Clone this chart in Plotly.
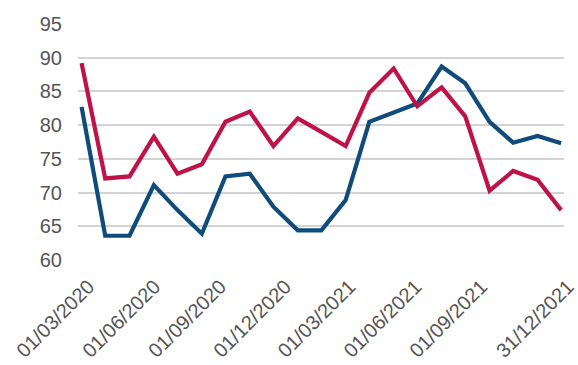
import plotly.graph_objects as go

dates = ["2020-03-01", "2020-04-03", "2020-05-07", "2020-06-10", "2020-07-13",
         "2020-08-16", "2020-09-18", "2020-10-22", "2020-11-24", "2020-12-28",
         "2021-01-30", "2021-03-05", "2021-04-07", "2021-05-11", "2021-06-13",
         "2021-07-17", "2021-08-19", "2021-09-22", "2021-10-25", "2021-11-28",
         "2021-12-31"]

red_series = [89.2, 72.1, 72.4, 78.3, 72.8, 74.2, 80.5, 82.0, 76.9, 81.0,
              79.0, 76.9, 84.8, 88.4, 82.8, 85.6, 81.3, 70.3, 73.2, 71.9, 67.4]

blue_series = [82.7, 63.6, 63.6, 71.1, 67.4, 63.9, 72.4, 72.8, 67.9, 64.4,
               64.4, 68.9, 80.5, 81.9, 83.2, 88.7, 86.2, 80.5, 77.4, 78.4, 77.3]

tick_dates = ["2020-03-01", "2020-06-01", "2020-09-01", "2020-12-01",
              "2021-03-01", "2021-06-01", "2021-09-01", "2021-12-31"]
tick_labels = ["01/03/2020", "01/06/2020", "01/09/2020", "01/12/2020",
               "01/03/2021", "01/06/2021", "01/09/2021", "31/12/2021"]
y_ticks = [60, 65, 70, 75, 80, 85, 90, 95]

RED = "#BE1248"
BLUE = "#0F4C7C"

fig = go.Figure()
fig.add_trace(go.Scatter(x=dates, y=blue_series, mode="lines",
                         line=dict(color=BLUE, width=4.2), showlegend=False))
fig.add_trace(go.Scatter(x=dates, y=red_series, mode="lines",
                         line=dict(color=RED, width=4.2), showlegend=False))

fig.update_layout(
    width=578, height=365,
    margin=dict(l=78, r=14, t=24, b=105),
    paper_bgcolor="white", plot_bgcolor="white",
    font=dict(family="Liberation Sans, Arial, sans-serif", color="#555555", size=20),
    xaxis=dict(type="date", range=["2020-02-25", "2022-01-04"],
               tickvals=tick_dates, ticktext=tick_labels, tickangle=-45,
               showgrid=False, zeroline=False, showline=False, automargin=False,
               ticklabeloverflow="allow",
               tickfont=dict(size=20), ticklabelstandoff=10, ticklabelshift=7),
    yaxis=dict(range=[60, 95], tickvals=y_ticks, showgrid=True, automargin=False,
               gridcolor="#D3D3D3", gridwidth=1.5, zeroline=False,
               showline=False, ticks="", ticklabelstandoff=15),
)

fig.write_html("out.html")
